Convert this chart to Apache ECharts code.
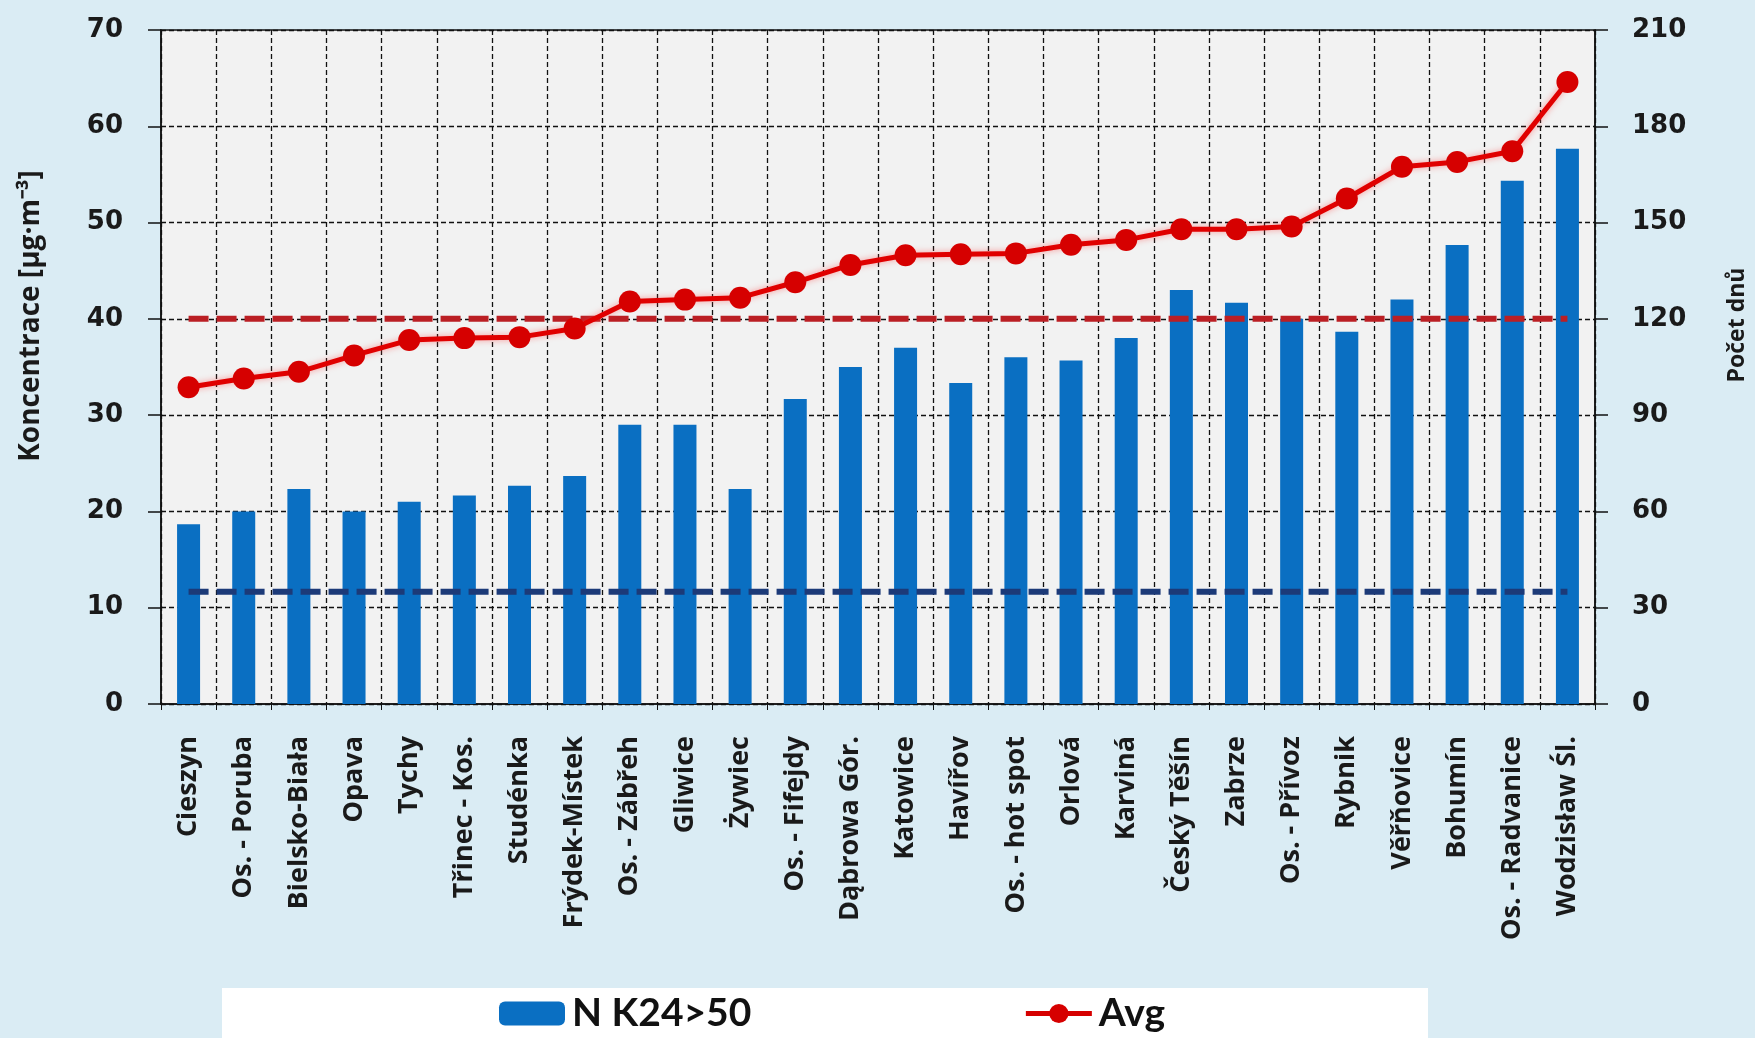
<!DOCTYPE html>
<html>
<head>
<meta charset="utf-8">
<script src="https://cdn.jsdelivr.net/npm/echarts@6/dist/echarts.min.js"></script>
<style>
html,body{margin:0;padding:0;background:#daecf4;}
#chart{width:1755px;height:1038px;}
</style>
</head>
<body>
<div id="chart"></div>
<script>
const categories = ['Cieszyn','Os. - Poruba','Bielsko-Biała','Opava','Tychy','Třinec - Kos.','Studénka','Frýdek-Místek','Os. - Zábřeh','Gliwice','Żywiec','Os. - Fifejdy','Dąbrowa Gór.','Katowice','Havířov','Os. - hot spot','Orlová','Karviná','Český Těšín','Zabrze','Os. - Přívoz','Rybnik','Věřňovice','Bohumín','Os. - Radvanice','Wodzisław Śl.'];
const daysOver50 = [56, 60, 67, 60, 63, 65, 68, 71, 87, 87, 67, 95, 105, 111, 100, 108, 107, 114, 129, 125, 120, 116, 126, 143, 163, 173];
const avgConc = [32.9, 33.8, 34.5, 36.2, 37.8, 38.0, 38.1, 39.0, 41.8, 42.0, 42.2, 43.8, 45.6, 46.6, 46.7, 46.8, 47.7, 48.2, 49.3, 49.3, 49.6, 52.5, 55.8, 56.3, 57.4, 64.6];
const limitAvg = 40;      // µg/m3 annual limit
const limitDays = 35;     // allowed days
const leftTicks = [0, 10, 70];   // min, interval, max
const rightTicks = [0, 30, 210];

const chart = echarts.init(document.getElementById('chart'));
const tickFont = {fontFamily: 'DejaVu Sans', fontWeight: 'bold', fontSize: 26, color: '#1a1a1a'};
chart.setOption({
  backgroundColor: '#daecf4',
  animation: false,
  grid: {left: 161, right: 160, top: 30, bottom: 334, show: true, backgroundColor: '#f2f2f2', borderColor: '#111', borderWidth: 1.5},
  graphic: [
    {type: 'rect', shape: {x: 222, y: 988, width: 1206, height: 70}, style: {fill: '#ffffff'}, z: 0},
    {type: 'text', x: 31, y: 316, rotation: Math.PI / 2, style: {text: 'Koncentrace [µg·m⁻³]', fontFamily: 'Open Sans', fontWeight: 'bold', fontSize: 28, fill: '#1a1a1a', textAlign: 'center', textVerticalAlign: 'middle'}},
    {type: 'text', x: 1737, y: 325, rotation: Math.PI / 2, style: {text: 'Počet dnů', fontFamily: 'Open Sans', fontWeight: 'bold', fontSize: 23, fill: '#1a1a1a', textAlign: 'center', textVerticalAlign: 'middle'}}
  ],
  legend: {
    data: [
      {name: 'N K24>50'},
      {name: 'Avg', lineStyle: {width: 5, color: '#d60000'}, itemStyle: {color: '#d60000'}}
    ],
    left: 499, top: 994, padding: 0,
    itemWidth: 66, itemHeight: 24, itemGap: 272,
    textStyle: {fontFamily: 'Lato', fontWeight: 'bold', fontSize: 39, color: '#111', padding: [0, 0, 0, 2]},
    z: 10
  },
  xAxis: {
    type: 'category', data: categories, boundaryGap: true,
    axisLine: {show: true, lineStyle: {color: '#111', width: 1.5}},
    axisTick: {show: true, length: 6, lineStyle: {color: '#111'}},
    axisLabel: {interval: 0, rotate: 90, margin: 32, fontFamily: 'Open Sans', fontWeight: 'bold', fontSize: 27, color: '#1a1a1a'},
    splitLine: {show: true, interval: 0, lineStyle: {color: '#111', type: [5, 3], width: 1.3}}
  },
  yAxis: [
    {
      type: 'value', min: leftTicks[0], interval: leftTicks[1], max: leftTicks[2],
      axisLine: {show: true, lineStyle: {color: '#111', width: 1.5}},
      axisTick: {show: true, length: 13, lineStyle: {color: '#111', width: 1.5}},
      axisLabel: Object.assign({margin: 38}, tickFont),
      splitLine: {show: true, lineStyle: {color: '#111', type: [5, 3], width: 1.3}}
    },
    {
      type: 'value', min: rightTicks[0], interval: rightTicks[1], max: rightTicks[2], position: 'right',
      axisLine: {show: true, lineStyle: {color: '#111', width: 1.5}},
      axisTick: {show: true, length: 13, lineStyle: {color: '#111', width: 1.5}},
      axisLabel: Object.assign({margin: 37}, tickFont),
      splitLine: {show: false}
    }
  ],
  series: [
    {
      name: 'N K24>50', type: 'bar', yAxisIndex: 1, data: daysOver50,
      barWidth: 23, itemStyle: {color: '#0a6fc2'}, z: 2
    },
    {
      name: 'limitDays', type: 'line', yAxisIndex: 1, data: categories.map(() => limitDays),
      symbol: 'none', lineStyle: {color: '#1c3a78', width: 6, type: [20, 8]}, z: 3, silent: true
    },
    {
      name: 'limitAvg', type: 'line', yAxisIndex: 0, data: categories.map(() => limitAvg),
      symbol: 'none', lineStyle: {color: '#bb1f24', width: 6, type: [20, 8]}, z: 3, silent: true
    },
    {
      name: 'Avg', type: 'line', yAxisIndex: 0, data: avgConc,
      symbol: 'circle', symbolSize: 22,
      itemStyle: {color: '#d60000'},
      lineStyle: {color: '#e00000', width: 5, shadowColor: 'rgba(255,60,60,0.5)', shadowBlur: 6},
      z: 4
    }
  ]
});
</script>
</body>
</html>
